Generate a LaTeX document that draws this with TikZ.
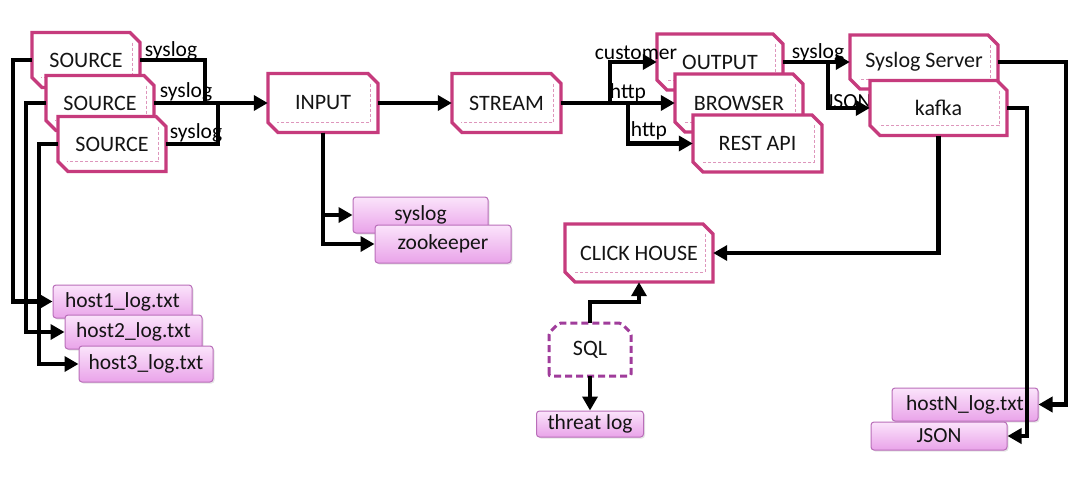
\documentclass[tikz,border=0pt]{standalone}
\usepackage{fontspec}
\setmainfont{Carlito}
\usetikzlibrary{arrows.meta,shadows,calc}
\definecolor{frame}{RGB}{198,59,125}
\definecolor{framedash}{RGB}{222,150,188}
\definecolor{notetop}{RGB}{251,228,251}
\definecolor{notebot}{RGB}{233,163,233}
\definecolor{notebd}{RGB}{185,110,185}
\definecolor{sqlc}{RGB}{160,60,155}
\definecolor{ink}{RGB}{20,20,20}
\tikzset{
 cbframe/.style={fill=white, draw=frame, line width=3.3pt, line join=miter},
 cbdash/.style={draw=framedash, line width=0.9pt, dash pattern=on 3pt off 2pt},
 cbnode/.style={inner sep=0pt, text=ink, font=\fontsize{22}{25}\selectfont},
 note/.style={draw=notebd, line width=1pt, rounded corners=3pt, top color=notetop, bottom color=notebot, inner sep=0pt, text=ink, font=\fontsize{21.5}{24}\selectfont, drop shadow={opacity=0.2, shadow xshift=1.5pt, shadow yshift=-1.5pt}},
 conn/.style={line width=4.5pt, draw=black, line join=miter},
 arr/.style={conn, -{Triangle[length=14pt,width=15pt]}},
 lbl/.style={text=black, inner sep=0pt, font=\fontsize{21.5}{24}\selectfont},
}
\newcommand\frbox[6]{%
 \pgfmathsetmacro\cbL{#2-#4/2}\pgfmathsetmacro\cbR{#2+#4/2}%
 \pgfmathsetmacro\cbT{#3-#5/2}\pgfmathsetmacro\cbB{#3+#5/2}%
 \filldraw[cbframe] (\cbL,\cbT) -- ({\cbR-10},\cbT) -- (\cbR,{\cbT+10}) -- (\cbR,\cbB) -- ({\cbL+10},\cbB) -- (\cbL,{\cbB-10}) -- cycle;
 \draw[cbdash] ({\cbR-8},{\cbT+10}) -- ({\cbR-8},{\cbB-10}) -- ({\cbL+9},{\cbB-10});
 \node[cbnode, minimum width=#4pt, minimum height=#5pt] (#1) at (#2,#3) {#6};
}
\begin{document}
\begin{tikzpicture}[x=1pt,y=-1pt]
\fill[white] (0,0) rectangle (1080,483);
\useasboundingbox (0,0) rectangle (1080,483);

% sources
\frbox{s1}{86}{60}{108}{55}{SOURCE}
\frbox{s2}{100}{103}{108}{55}{SOURCE}
\frbox{s3}{112}{144}{108}{55}{SOURCE}
% pipeline
\frbox{in}{323}{103}{110}{59}{INPUT}
\frbox{st}{506.5}{103}{109}{59}{STREAM}
\frbox{out}{720}{62}{126}{56}{OUTPUT}
\frbox{br}{739}{103}{128}{58}{BROWSER}
\frbox{rest}{757.5}{143.5}{129}{57}{REST API}
\frbox{ss}{924}{62}{148}{54}{Syslog Server}
\node[lbl] (lJSON) at (849,102) {JSON};
\frbox{kf}{938.5}{108}{137}{55}{kafka}
\frbox{ch}{639}{253}{148}{58}{CLICK HOUSE}

% SQL
\draw[sqlc, line width=3pt, dash pattern=on 7pt off 4pt, fill=white, rounded corners=2pt] (549,376) -- (549,333) -- (559,323) -- (621,323) -- (631,333) -- (631,376) -- cycle;
\node[cbnode, minimum width=82pt, minimum height=53pt] (sql) at (590,349.5) {SQL};

% notes
\node[note, minimum width=135pt, minimum height=36pt] (nsys) at (420.5,215) {syslog};
\node[note, minimum width=136pt, minimum height=38pt] (nzk) at (443,244) {zookeeper};
\node[note, minimum width=139pt, minimum height=33pt] (h1) at (122.5,301.5) {host1\_log.txt};
\node[note, minimum width=137pt, minimum height=34pt] (h2) at (133.5,332) {host2\_log.txt};
\node[note, minimum width=134pt, minimum height=36pt] (h3) at (146,364) {host3\_log.txt};
\node[note, minimum width=107pt, minimum height=26pt] (tl) at (590,424) {threat log};
\node[note, minimum width=146pt, minimum height=33pt] (hn) at (965,404.5) {hostN\_log.txt};
\node[note, minimum width=136pt, minimum height=28pt] (js) at (939,436) {JSON};

% connectors: sources -> input
\coordinate (j1) at (205,103);
\coordinate (j2) at (218,103);
\draw[conn] (s1.east) -| (j1);
\draw[conn] (s3.east) -| (j2);
\draw[arr] (s2.east) -- (in.west);
% sources -> host logs
\draw[arr] (s1.west) -- ([xshift=-19pt]s1.west) |- (h1.west);
\draw[arr] (s2.west) -- ([xshift=-20pt]s2.west) |- (h2.west);
\draw[arr] (s3.west) -- ([xshift=-19pt]s3.west) |- (h3.west);
% input
\draw[arr] (in.east) -- (st.west);
\draw[arr] (in.south) |- (nsys.west);
\draw[arr] (in.south) |- (nzk.west);
% stream -> outputs
\draw[arr] (st.east) -- (br.west);
\draw[arr] ([xshift=49pt]st.east) |- (out.west);
\draw[arr] ([xshift=67pt]st.east) |- (rest.west);
% output -> syslog server / kafka
\draw[arr] (out.east) -- (ss.west);
\draw[arr] ([xshift=45pt]out.east) |- (kf.west);
% to files
\draw[arr] (ss.east) -- ([xshift=68pt]ss.east) |- (hn.east);
\draw[arr] (kf.east) -- ([xshift=20pt]kf.east) |- (js.east);
% kafka -> click house
\draw[arr] (kf.south) |- (ch.east);
% sql
\draw[arr] (sql.north) |- ([yshift=-20pt]ch.south) -- (ch.south);
\draw[arr] (sql.south) -- (tl.north);

% labels
\node[lbl] (l1) at (171,51) {syslog};
\node[lbl] (l2) at (186,92) {syslog};
\node[lbl] (l3) at (196,133) {syslog};
\node[lbl] (lc) at (636,53) {customer};
\node[lbl] (lh1) at (628,93) {http};
\node[lbl] (lh2) at (649,131) {http};
\node[lbl] (ls) at (818,53) {syslog};
\end{tikzpicture}
\end{document}
